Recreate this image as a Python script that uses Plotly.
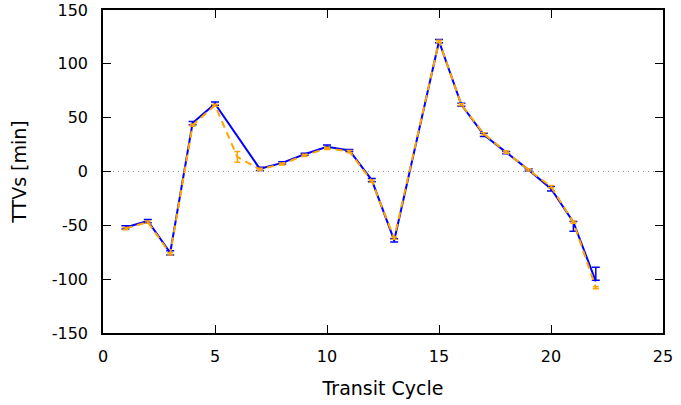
import plotly.graph_objects as go

# Observed transit timing variations (blue error bars)
obs_x = [1, 2, 3, 4, 5, 7, 8, 9, 10, 11, 12, 13, 15, 16, 17, 18, 19, 20, 21, 22]
obs_y = [-52, -46, -75.5, 45, 63, 2.5, 8, 16, 23, 19.5, -8, -64, 121, 62, 34, 17.5, 1.5, -16, -51, -95]
obs_err = [1.5, 1.5, 2, 1.5, 1.5, 1.5, 1, 1, 1.5, 1, 1.5, 1.5, 1.5, 1.5, 1.5, 1, 1, 2, 4.6, 6]

# Blue solid curve
fit_x = [1, 2, 3, 4, 5, 7, 8, 9, 10, 11, 12, 13, 15, 16, 17, 18, 19, 20, 21, 22]
fit_y = [-52, -46, -75.5, 45, 63, 2.5, 8, 16, 23, 19.5, -8, -64, 121, 62, 34, 17.5, 1.5, -16, -47, -102]

# Orange dashed model with error bars
model_x = [1, 2, 3, 4, 5, 6, 7, 8, 9, 10, 11, 12, 13, 15, 16, 17, 18, 19, 20, 21, 22]
model_y = [-53, -47, -76.5, 43, 61.5, 13.5, 2, 7, 15, 21.5, 18.5, -9, -62, 121, 62, 35, 18, 1.5, -14, -47, -108]
model_err = [1, 1, 1, 1, 1, 5, 1, 1, 1, 1, 1, 1, 1, 1, 1, 1, 1, 1, 1, 1, 1]

x_ticks = [0, 5, 10, 15, 20, 25]
y_ticks = [-150, -100, -50, 0, 50, 100, 150]

BLUE = "#0000ff"
ORANGE = "#ffa500"

fig = go.Figure()

fig.add_trace(go.Scatter(
    x=obs_x, y=obs_y, mode="markers",
    marker=dict(size=1, color=BLUE),
    error_y=dict(type="data", array=obs_err, visible=True, color=BLUE, thickness=1.5, width=4),
    showlegend=False, hoverinfo="skip",
))
fig.add_trace(go.Scatter(
    x=fit_x, y=fit_y, mode="lines",
    line=dict(color=BLUE, width=2),
    showlegend=False,
))
fig.add_trace(go.Scatter(
    x=model_x, y=model_y, mode="lines",
    line=dict(color=ORANGE, width=2, dash="7px,5px"),
    error_y=dict(type="data", array=model_err, visible=True, color=ORANGE, thickness=1.5, width=3),
    showlegend=False,
))

fig.add_shape(type="line", xref="paper", x0=0, x1=1, yref="y", y0=0, y1=0,
              line=dict(color="#909090", width=1, dash="1px,4px"), layer="below")

axis_common = dict(
    showgrid=False, zeroline=False, showline=True, linecolor="black", linewidth=1.5,
    mirror="ticks", ticks="inside", ticklen=8, tickwidth=1, tickcolor="black",
    tickfont=dict(family="DejaVu Sans", size=16, color="black"),
    automargin=False,
)

fig.update_layout(
    width=681, height=405,
    margin=dict(l=103, r=18, t=10, b=72),
    paper_bgcolor="white", plot_bgcolor="white",
    font=dict(family="DejaVu Sans", size=16, color="black"),
    xaxis=dict(range=[0, 25], tickvals=x_ticks, ticktext=[str(v) for v in x_ticks],
               title=dict(text="Transit Cycle", standoff=17), ticklabelstandoff=8, **axis_common),
    yaxis=dict(range=[-150, 150], tickvals=y_ticks, ticktext=[str(v) for v in y_ticks],
               title=dict(text="TTVs [min]", standoff=20), ticklabelstandoff=10, **axis_common),
)

fig.write_html("out.html", config={"displayModeBar": False},
               post_script="document.body.style.margin='0';")
